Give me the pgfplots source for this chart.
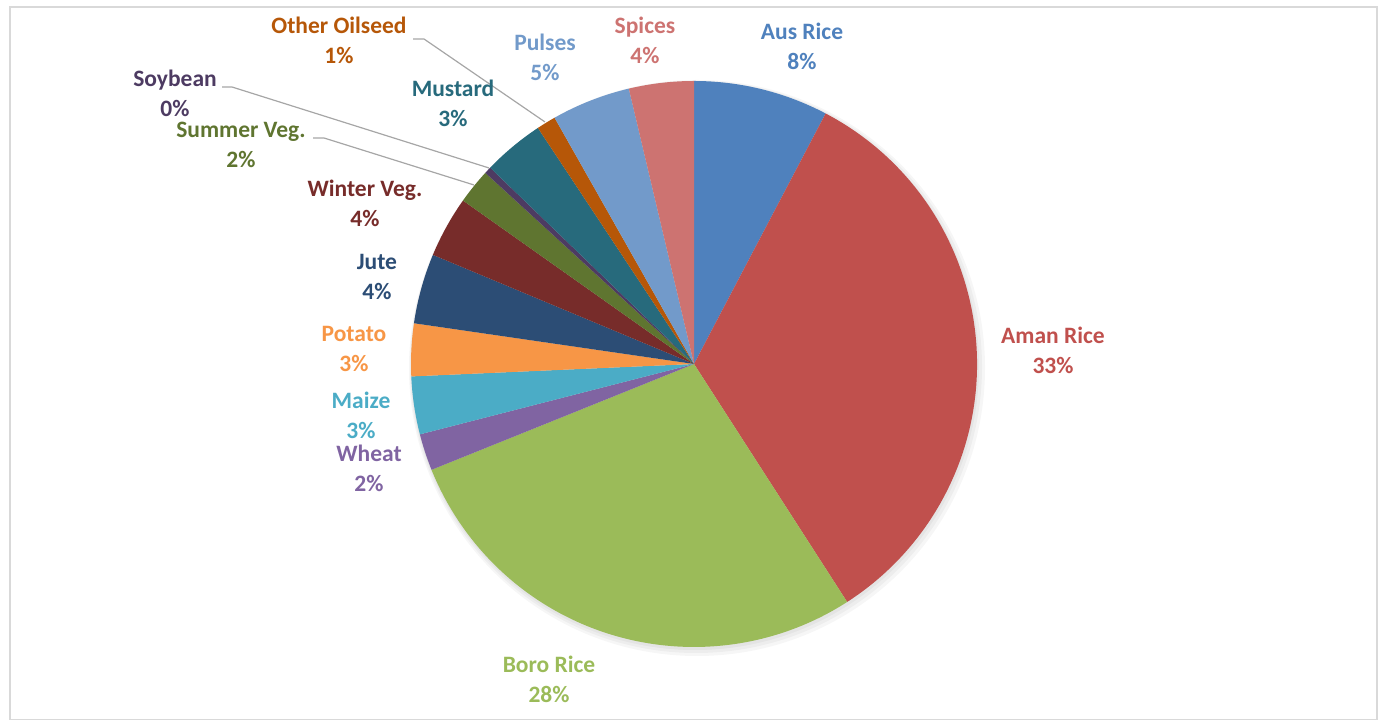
\documentclass[border=0pt]{standalone}
\usepackage{pgfplots}
\usepackage{pgfplotstable}
\pgfplotsset{compat=1.18}
\usepackage{fontspec}
\setmainfont{Carlito}

\definecolor{c0}{HTML}{4F81BD}
\definecolor{c1}{HTML}{C0504D}
\definecolor{c2}{HTML}{9BBB59}
\definecolor{c3}{HTML}{8064A2}
\definecolor{c4}{HTML}{4BACC6}
\definecolor{c5}{HTML}{F79646}
\definecolor{c6}{HTML}{2C4D75}
\definecolor{c7}{HTML}{772C2A}
\definecolor{c8}{HTML}{5F7530}
\definecolor{c9}{HTML}{4D3B62}
\definecolor{c10}{HTML}{276A7C}
\definecolor{c11}{HTML}{B65708}
\definecolor{c12}{HTML}{729ACA}
\definecolor{c13}{HTML}{CD7371}
\definecolor{leader}{HTML}{A6A6A6}
\definecolor{frame}{HTML}{D9D9D9}

% share of each crop (percent), clockwise from 12 o'clock
\pgfplotstableread{
idx crop value
0 AusRice 7.7
1 AmanRice 33.2
2 BoroRice 28.0
3 Wheat 2.1
4 Maize 3.3
5 Potato 3.0
6 Jute 4.0
7 WinterVeg 3.5
8 SummerVeg 2.0
9 Soybean 0.4
10 Mustard 3.5
11 OtherOilseed 1.1
12 Pulses 4.5
13 Spices 3.7
}\piedata

\tikzset{lab/.style={align=center, font=\bfseries\fontsize{11.75}{15}\selectfont, inner sep=0pt}}

\begin{document}
\begin{tikzpicture}
\begin{axis}[scale only axis, width=690pt, height=360.5pt,
  xmin=0, xmax=1380, ymin=0, ymax=721, hide axis, clip=false]
\path (axis cs:0,0) rectangle (axis cs:1380,721);
\draw[frame, line width=0.8pt] (axis cs:10,714) rectangle (axis cs:1377,1.5);
% soft shadow
\fill[black, fill opacity=0.035] (axis cs:697,353) circle[radius=144pt];
\fill[black, fill opacity=0.035] (axis cs:696,354) circle[radius=143pt];
\fill[black, fill opacity=0.04] (axis cs:695,355) circle[radius=142pt];
% slices
\gdef\cumval{0}
\pgfplotsinvokeforeach{0,...,13}{%
  \pgfplotstablegetelem{#1}{value}\of\piedata
  \let\v\pgfplotsretval
  \pgfmathsetmacro\sa{90-3.6*\cumval}%
  \pgfmathsetmacro\ea{90-3.6*(\cumval+\v)}%
  \pgfmathsetmacro\newcum{\cumval+\v}%
  \global\let\cumval\newcum
  \edef\temp{\noexpand\fill[c#1] (axis cs:694,357) -- ++(\sa:141.5pt) arc[start angle=\sa, end angle=\ea, radius=141.5pt] -- cycle;}%
  \temp
}
% leader lines
\draw[leader, line width=0.6pt] (axis cs:413,682) -- (axis cs:424,682) -- (axis cs:545,599);
\draw[leader, line width=0.6pt] (axis cs:222,634) -- (axis cs:232,634) -- (axis cs:489,553);
\draw[leader, line width=0.6pt] (axis cs:313,583) -- (axis cs:324,583) -- (axis cs:474,536);
% labels
\node[lab, text=c0] at (axis cs:802,675) {Aus Rice\\8\%};
\node[lab, text=c1] at (axis cs:1053,370.5) {Aman Rice\\33\%};
\node[lab, text=c2] at (axis cs:549,42) {Boro Rice\\28\%};
\node[lab, text=c3] at (axis cs:369,253) {Wheat\\2\%};
\node[lab, text=c4] at (axis cs:361,306) {Maize\\3\%};
\node[lab, text=c5] at (axis cs:354,372) {Potato\\3\%};
\node[lab, text=c6] at (axis cs:377,444) {Jute\\4\%};
\node[lab, text=c7] at (axis cs:365,518) {Winter Veg.\\4\%};
\node[lab, text=c8] at (axis cs:241,576) {Summer Veg.\\2\%};
\node[lab, text=c9] at (axis cs:175,628) {Soybean\\0\%};
\node[lab, text=c10] at (axis cs:453,618) {Mustard\\3\%};
\node[lab, text=c11] at (axis cs:339,681) {Other Oilseed\\1\%};
\node[lab, text=c12] at (axis cs:545,664) {Pulses\\5\%};
\node[lab, text=c13] at (axis cs:645,681) {Spices\\4\%};
\end{axis}
\end{tikzpicture}
\end{document}
